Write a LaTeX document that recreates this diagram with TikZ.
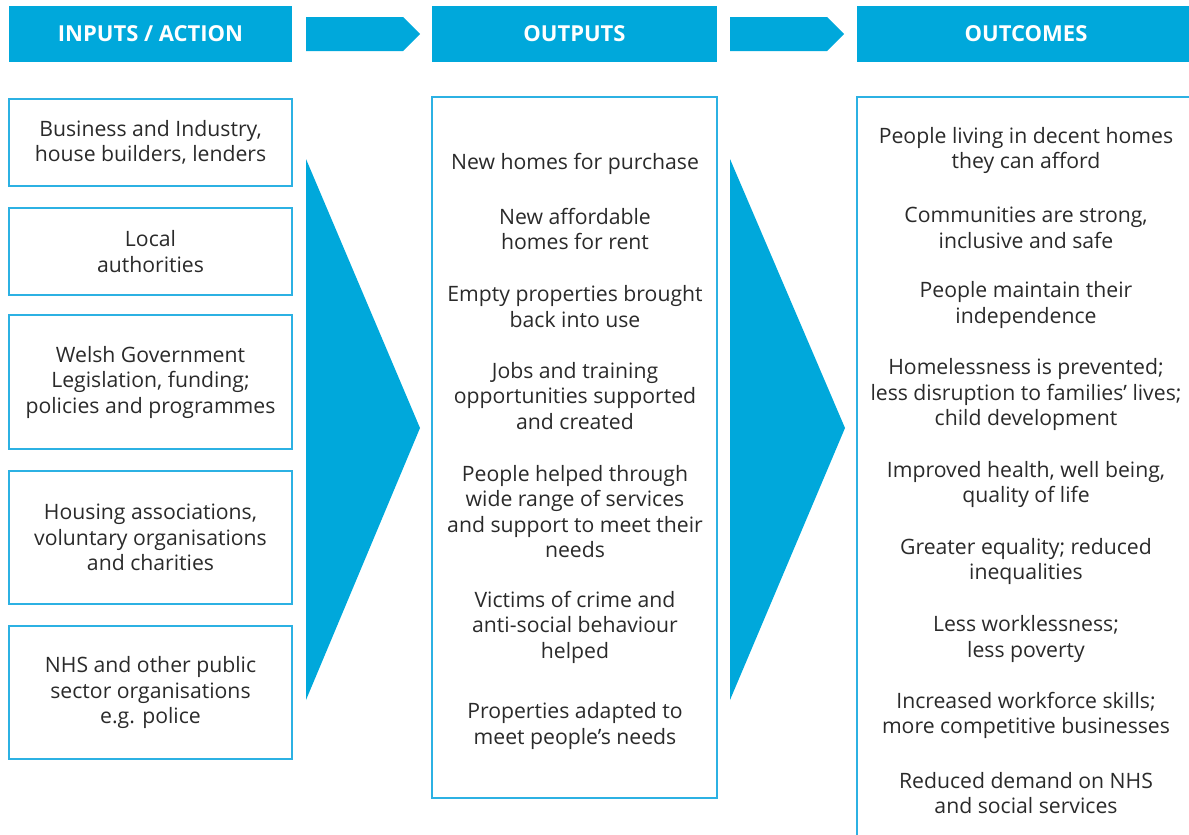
\documentclass[tikz,border=0pt]{standalone}
\usepackage{fontspec}
\setmainfont{Open Sans}
\usetikzlibrary{shapes.symbols,positioning}
\definecolor{hblue}{HTML}{00A8DB}
\definecolor{lblue}{HTML}{2CB1E3}
\definecolor{txtgrey}{HTML}{2A2A2A}
\tikzset{head/.style={fill=hblue, text=white, font=\fontsize{22}{26}\selectfont\bfseries, minimum height=56pt, inner sep=0pt}}
\tikzset{box/.style={draw=lblue, line width=1.2pt, inner sep=0pt, text=txtgrey, align=center, font=\fontsize{21.2}{25.5}\selectfont}}
\tikzset{item/.style={text=txtgrey, align=center, font=\fontsize{21.2}{25.5}\selectfont, inner sep=0pt}}
\tikzset{chev/.style={signal, signal to=east, signal pointer angle=90, fill=hblue, minimum width=114pt, minimum height=34pt, inner sep=0pt, anchor=west}}

\begin{document}
\begin{tikzpicture}[x=1pt,y=-1pt]
  \useasboundingbox (0,0) rectangle (1189,835);
  % headers
  \node[head, minimum width=283pt] (hin) at (150.5,34) {INPUTS / ACTION};
  \node[head, minimum width=285pt] (hout) at (574.5,34) {OUTPUTS};
  \node[head, minimum width=338pt] (hres) at (1026,34) {OUTCOMES};
  \node[chev] (c1) at (306,34) {};
  \node[chev] (c2) at (730,34) {};
  % inputs
  \node[box, minimum width=283pt, minimum height=87pt] (i1) at (150.5,142.5) {Business and Industry,\\house builders, lenders};
  \node[box, minimum width=283pt, minimum height=87pt] (i2) at (150.5,251.5) {Local\\authorities};
  \node[box, minimum width=283pt, minimum height=134pt] (i3) at (150.5,382) {Welsh Government\\Legislation, funding;\\policies and programmes};
  \node[box, minimum width=283pt, minimum height=133pt] (i4) at (150.5,537.5) {Housing associations,\\voluntary organisations\\and charities};
  \node[box, minimum width=283pt, minimum height=133pt] (i5) at (150.5,692.5) {NHS and other public\\sector organisations\\e.g. police};
  % big arrows
  \fill[hblue] (306,159) -- (420,428) -- (306,700) -- cycle;
  \fill[hblue] (730,159) -- (845,428) -- (730,700) -- cycle;
  % outputs
  \node[box, minimum width=285pt, minimum height=701pt] (obox) at (574.5,447.5) {};
  \node[item] (o1) at (575,164) {New homes for purchase};
  \node[item] (o2) at (575,229) {New affordable\\homes for rent};
  \node[item] (o3) at (575,306.5) {Empty properties brought\\back into use};
  \node[item] (o4) at (575,396) {Jobs and training\\opportunities supported\\and created};
  \node[item] (o5) at (575,511.5) {People helped through\\wide range of services\\and support to meet their\\needs};
  \node[item] (o6) at (575,627) {Victims of crime and\\anti-social behaviour\\helped};
  \node[item] (o7) at (575,726) {Properties adapted to\\meet people’s needs};
  % outcomes
  \node[box, minimum width=338pt, minimum height=743pt] (rbox) at (1026,468.5) {};
  \node[item] (r1) at (1026,150.5) {People living in decent homes\\they can afford};
  \node[item] (r2) at (1026,228) {Communities are strong,\\inclusive and safe};
  \node[item] (r3) at (1026,305) {People maintain their\\independence};
  \node[item] (r4) at (1026,394.5) {Homelessness is prevented;\\less disruption to families’ lives;\\child development};
  \node[item] (r5) at (1026,484.5) {Improved health, well being,\\quality of life};
  \node[item] (r6) at (1026,561.5) {Greater equality; reduced\\inequalities};
  \node[item] (r7) at (1026,639) {Less worklessness;\\less poverty};
  \node[item] (r8) at (1026,715.5) {Increased workforce skills;\\more competitive businesses};
  \node[item] (r9) at (1026,793) {Reduced demand on NHS\\and social services};
\end{tikzpicture}
\end{document}
